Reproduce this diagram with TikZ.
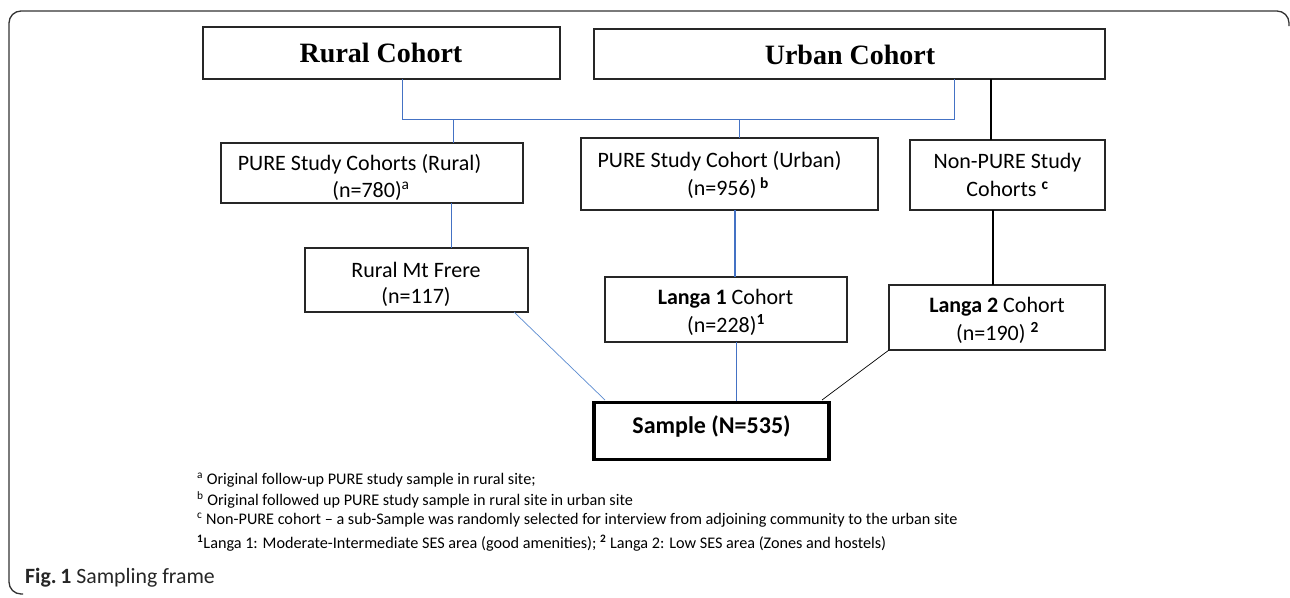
\documentclass[tikz,border=0pt]{standalone}
\usepackage{fontspec}
\setmainfont{Carlito}
\newfontfamily\tnr{Liberation Serif}
\definecolor{lnblue}{HTML}{4472C4}
\definecolor{lnblue2}{HTML}{5B8BD0}
\definecolor{frm}{HTML}{333333}
\begin{document}
\begin{tikzpicture}[x=1pt,y=-1pt,
  box/.style={draw=black!85, line width=1.1pt, inner sep=0pt, outer sep=0pt},
  big/.style={font=\tnr\bfseries\fontsize{28}{30}\selectfont, inner sep=0pt},
  txt/.style={font=\fontsize{22}{26}\selectfont, inner sep=0pt},
  fn/.style={font=\fontsize{16.2}{18}\selectfont, inner sep=0pt, anchor=west},
  bl/.style={draw=lnblue, line width=0.9pt},
  bk/.style={draw=black, line width=1.4pt},
  dg/.style={line width=0.7pt}]
\useasboundingbox (0,0) rectangle (1290,597);
% frame
\draw[frm, line width=1.3pt, rounded corners=12pt] (1289,26) -- (1289,11) -- (9,11) -- (9,594) -- (23,594);
% boxes
\node[box, minimum width=357pt, minimum height=52pt] (rural) at (381.5,53) {};
\node[box, minimum width=511pt, minimum height=50pt] (urban) at (849.5,54) {};
\node[box, minimum width=302pt, minimum height=60pt] (pureR) at (372,173) {};
\node[box, minimum width=297pt, minimum height=72pt] (pureU) at (729.5,174) {};
\node[box, minimum width=195pt, minimum height=70pt] (nonp) at (1007.5,175) {};
\node[box, minimum width=223pt, minimum height=64pt] (mtf) at (416.5,280) {};
\node[box, minimum width=242pt, minimum height=65pt] (langa1) at (726,309.5) {};
\node[box, minimum width=216pt, minimum height=65pt] (langa2) at (997,317.5) {};
\node[draw=black, line width=3.3pt, inner sep=0pt, minimum width=235pt, minimum height=57pt] (sample) at (711.5,431) {};
% texts
\node[big] (ruralT) at (381,53) {Rural Cohort};
\node[big] (urbanT) at (850,55) {Urban Cohort};
\node[txt] (pureRa) at (359.5,164) {PURE Study Cohorts (Rural)};
\node[txt] (pureRb) at (371,191) {(n=780)\textsuperscript{a}};
\node[txt] (pureUa) at (719.5,161) {PURE Study Cohort (Urban)};
\node[txt] (pureUb) at (728,188) {(n=956)\,\textsuperscript{\textbf{b}}};
\node[txt] (nonpa) at (1007.5,163) {Non-PURE Study};
\node[txt] (nonpb) at (1007.5,189) {Cohorts \textsuperscript{\textbf{c}}};
\node[txt] (mtfa) at (416,270) {Rural Mt Frere};
\node[txt] (mtfb) at (416,297) {(n=117)};
\node[txt] (l1a) at (725.5,299) {\textbf{Langa 1} Cohort};
\node[txt] (l1b) at (726,325) {(n=228)\textsuperscript{\textbf{1}}};
\node[txt] (l2a) at (997,307) {\textbf{Langa 2} Cohort};
\node[txt] (l2b) at (997.5,333) {(n=190) \textsuperscript{\textbf{2}}};
\node[txt, font=\bfseries\fontsize{24}{28}\selectfont] (sampleT) at (711.5,426) {Sample (N=535)};
% connectors
\coordinate (j1) at (402,119);
\coordinate (j2) at (954,119);
\coordinate (b1) at (453,119);
\coordinate (b2) at (739,119);
\coordinate (c1) at (991,119);
\coordinate (d1) at (451,0);
\coordinate (d2) at (735,0);
\coordinate (d3) at (993,0);
\coordinate (mA) at (514,312);
\coordinate (mB) at (605,400);
\coordinate (lA) at (736,342);
\coordinate (nA) at (822,400);
\draw[bl] (rural.south -| j1) -- (j1) -- (j2) -- (urban.south -| j2);
\draw[bl] (b1) -- (pureR.north -| b1);
\draw[bl] (b2) -- (pureU.north -| b2);
\draw[bk] (urban.south -| c1) -- (nonp.north -| c1);
\draw[bl] (pureR.south -| d1) -- (mtf.north -| d1);
\draw[bl, line width=1.1pt] (pureU.south -| d2) -- (langa1.north -| d2);
\draw[bk] (nonp.south -| d3) -- (langa2.north -| d3);
\draw[lnblue2, dg] (mA) -- (mB);
\draw[bl, line width=0.8pt] (lA) -- (sample.north -| lA);
\draw[black, dg] (langa2.south west) -- (nA);
% footnotes
\node[fn] (f1) at (197,480) {\textsuperscript{a} Original follow-up PURE study sample in rural site;};
\node[fn] (f2) at (197,500) {\textsuperscript{b} Original followed up PURE study sample in rural site in urban site};
\node[fn] (f3) at (197,520) {\textsuperscript{c} Non-PURE cohort -- a sub-Sample was randomly selected for interview from adjoining community to the urban site};
\node[fn] (f4) at (197,543) {\textsuperscript{\textbf{1}}Langa 1: Moderate-Intermediate SES area (good amenities); \textsuperscript{\textbf{2}} Langa 2: Low SES area (Zones and hostels)};
\node[anchor=west, inner sep=0pt, font=\fontsize{21.8}{24}\selectfont, text=black!85] (cap) at (25,578) {\textbf{Fig.\,1} Sampling frame};
\end{tikzpicture}
\end{document}
